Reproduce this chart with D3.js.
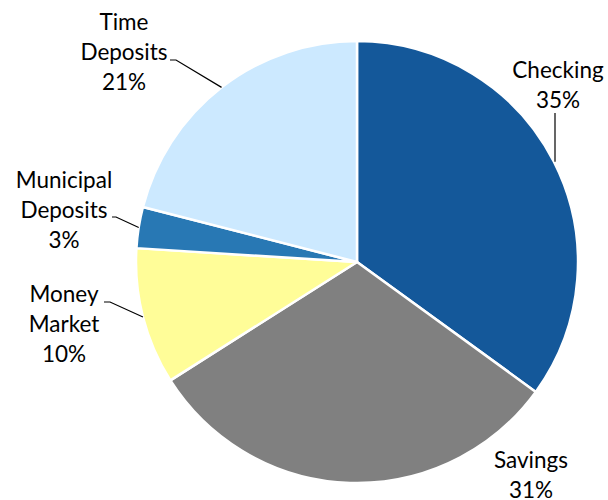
<!DOCTYPE html>
<html><head><meta charset="utf-8">
<script src="https://cdn.jsdelivr.net/npm/d3@7"></script>
<style>body{margin:0;background:#fff}svg{display:block}text{font-family:Lato,"Open Sans",sans-serif;fill:#000}</style>
</head><body><svg id="c" width="608" height="500"></svg>
<script>
const categories = ["Checking","Savings","Money Market","Municipal Deposits","Time Deposits"];
const values = [35,31,10,3,21];
const colors = ["#14589A","#808080","#FFFD98","#2878B4","#CCE9FF"];
const labelLines = [["Checking","35%"],["Savings","31%"],["Money","Market","10%"],["Municipal","Deposits","3%"],["Time","Deposits","21%"]];
// label layout: text centre x, first baseline y, leader start point and elbow
const labelLayout = [
  {x:558,y:78,lead:[[555,113]]},
  {x:531,y:468,lead:null},
  {x:64,y:302,lead:[[104,302],[110,302]]},
  {x:64,y:188,lead:[[112,217],[116,217]]},
  {x:124,y:30,lead:[[170,60],[176,60]]}
];
const svg = d3.select("#c");
const cx=357, cy=262, r=221;
const g = svg.append("g").attr("transform",`translate(${cx},${cy})`);
const pie = d3.pie().sort(null).value(d=>d)(values);
const arc = d3.arc().innerRadius(0).outerRadius(r);
g.selectAll("path").data(pie).join("path")
  .attr("d",arc).attr("fill",(d,i)=>colors[i])
  .attr("stroke","#fff").attr("stroke-width",2.5).attr("stroke-linejoin","round");
const lh=30;
pie.forEach((d,i)=>{
  const L=labelLayout[i];
  const t=svg.append("text").attr("text-anchor","middle").attr("font-size",22.5);
  labelLines[i].forEach((s,k)=>t.append("tspan").attr("x",L.x).attr("y",L.y+k*lh).text(s));
  if(L.lead){
    const a=(d.startAngle+d.endAngle)/2;
    const end=[cx+r*Math.sin(a), cy-r*Math.cos(a)];
    const pts=L.lead.concat([end]);
    if(i===0) pts[1]=[L.lead[0][0], end[1]];
    svg.append("path").attr("d",d3.line()(pts)).attr("fill","none").attr("stroke","#000").attr("stroke-width",1.2);
  }
});
</script></body></html>
